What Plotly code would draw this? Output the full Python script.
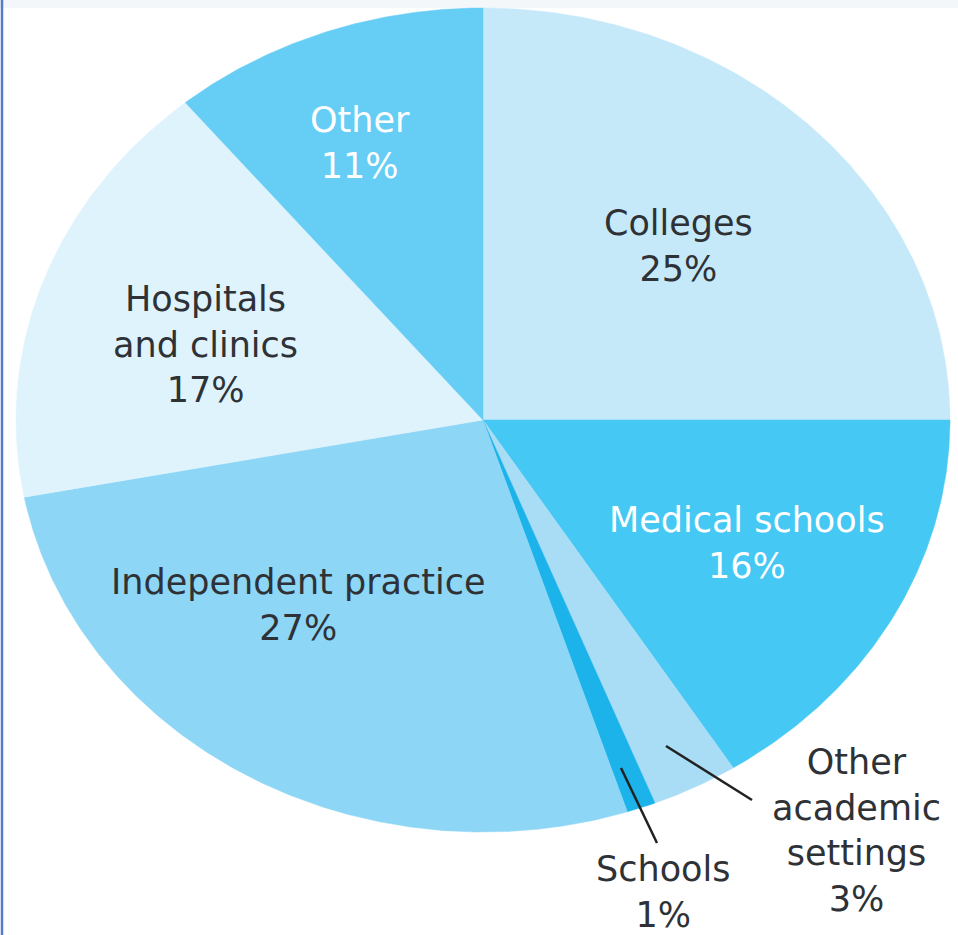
import numpy as np
import plotly.graph_objects as go

categories = ["Colleges", "Medical schools", "Other academic settings", "Schools",
              "Independent practice", "Hospitals and clinics", "Other"]
values = [25, 16, 3, 1, 27, 17, 11]
colors = ["#C6E9FA", "#45C8F3", "#A9DDF6", "#1BB3EA", "#8DD6F5", "#DFF3FD", "#66CDF4"]

W, H = 958, 935
CX, CY, RX, RY = 483, 420, 467, 412

fig = go.Figure()
total = sum(values)
start = 0.0
for cat, v, col in zip(categories, values, colors):
    a0 = start / total * 2 * np.pi
    a1 = (start + v) / total * 2 * np.pi
    t = np.linspace(a0, a1, max(4, int(v * 8)))
    xs = np.concatenate([[CX], CX + RX * np.sin(t), [CX]])
    ys = np.concatenate([[CY], CY - RY * np.cos(t), [CY]])
    fig.add_trace(go.Scatter(x=xs, y=ys, fill="toself", fillcolor=col, mode="lines",
                             line=dict(width=0.5, color=col), hoverinfo="skip",
                             name=cat, showlegend=False))
    start += v

FONT = "DejaVu Sans"
dark = "#2E3236"
labels = [
    ("Colleges<br>25%", 678, 246, dark),
    ("Medical schools<br>16%", 747, 543, "white"),
    ("Other<br>11%", 360, 143, "white"),
    ("Hospitals<br>and clinics<br>17%", 205, 344, dark),
    ("Independent practice<br>27%", 298, 605, dark),
    ("Other<br>academic<br>settings<br>3%", 856, 830, dark),
    ("Schools<br>1%", 663, 892, dark),
]
for txt, x, y, c in labels:
    fig.add_annotation(x=x, y=y, text=txt, showarrow=False, xref="x", yref="y",
                       font=dict(family=FONT, size=35, color=c), align="center",
                       xanchor="center", yanchor="middle")

# leader lines
fig.add_shape(type="line", x0=621, y0=768, x1=657, y1=843, line=dict(color="#222", width=2.5))
fig.add_shape(type="line", x0=666, y0=746, x1=752, y1=800, line=dict(color="#222", width=2.5))

# frame accents
fig.add_shape(type="rect", x0=0, y0=0, x1=W, y1=8, line=dict(width=0), fillcolor="#F3F7F9", layer="below")
fig.add_shape(type="line", x0=2, y0=0, x1=2, y1=H, line=dict(color="#5A78C8", width=2.5))

fig.update_layout(
    width=W, height=H, margin=dict(l=0, r=0, t=0, b=0),
    paper_bgcolor="white", plot_bgcolor="white",
    xaxis=dict(range=[0, W], visible=False, fixedrange=True),
    yaxis=dict(range=[H, 0], visible=False, fixedrange=True),
    showlegend=False,
)
fig.write_html("out.html", config={"displayModeBar": False},
               post_script="document.body.style.margin='0px';document.body.style.overflow='hidden';")
